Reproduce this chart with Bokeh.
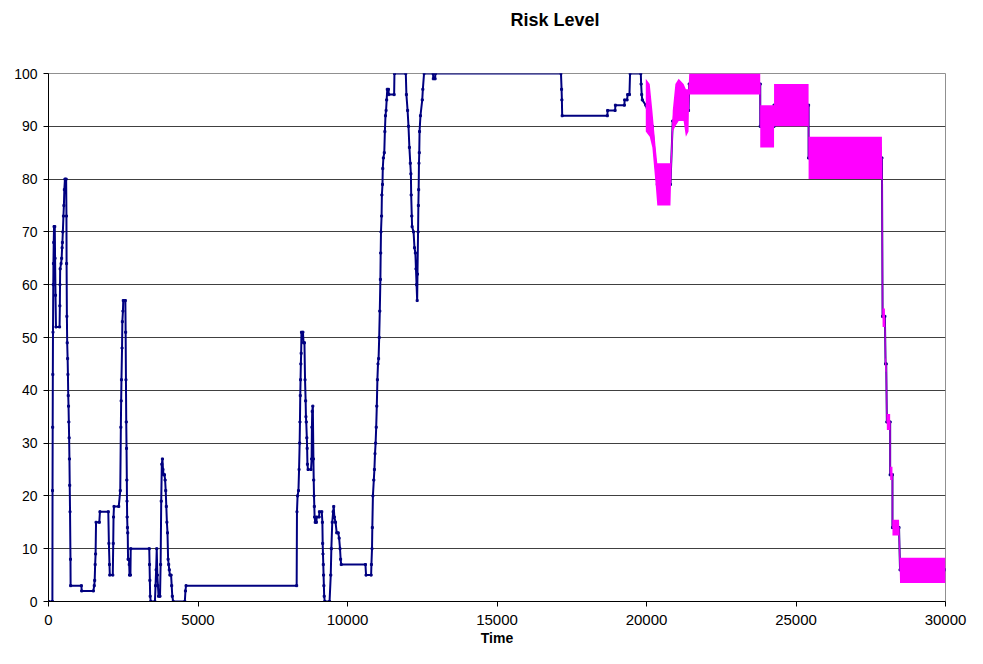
from bokeh.plotting import figure
from bokeh.models import Range1d, FixedTicker, Title
from bokeh.embed import file_html
from bokeh.resources import INLINE

# ---- data ----
blue_time = [0, 130, 135, 140, 145, 150, 160, 165, 175, 185, 210, 220, 235, 250, 370, 380, 385, 390, 420, 440,
             455, 465, 480, 500, 515, 530, 550, 590, 600, 605, 615, 625, 640, 650, 660, 670, 680, 690, 700, 710,
             720, 735, 740, 1100, 1110, 1500, 1530, 1545, 1560, 1575, 1590, 1700, 1720, 2000, 2020, 2040, 2050,
             2150, 2165, 2175, 2190, 2350, 2400, 2420, 2430, 2440, 2460, 2470, 2490, 2500, 2570, 2580, 2590,
             2600, 2610, 2620, 2625, 2630, 2640, 2650, 2660, 2690, 2700, 2710, 2740, 2750, 3370, 3380, 3390,
             3400, 3420, 3560, 3580, 3600, 3620, 3640, 3660, 3680, 3730, 3750, 3770, 3790, 3810, 3830, 3850,
             3880, 3900, 3920, 3940, 3960, 3980, 4000, 4020, 4040, 4060, 4100, 4120, 4140, 4170, 4560, 4580,
             4600, 8300, 8310, 8330, 8360, 8380, 8400, 8410, 8420, 8430, 8440, 8450, 8460, 8510, 8530, 8560,
             8580, 8600, 8610, 8620, 8640, 8650, 8660, 8680, 8780, 8800, 8810, 8820, 8840, 8860, 8870, 8880,
             8890, 8900, 8920, 8960, 8970, 9050, 9060, 9140, 9160, 9170, 9180, 9190, 9200, 9210, 9220, 9240,
             9400, 9440, 9460, 9490, 9520, 9540, 9560, 9600, 9640, 9690, 9720, 9750, 9770, 9790, 10600, 10620,
             10790, 10800, 10820, 10830, 10850, 10880, 10900, 10920, 10940, 10960, 10980, 11000, 11020, 11040,
             11060, 11080, 11100, 11110, 11120, 11140, 11150, 11170, 11180, 11200, 11230, 11250, 11270, 11290,
             11310, 11330, 11370, 11380, 11560, 11570, 11950, 11970, 12010, 12040, 12070, 12100, 12120, 12130,
             12150, 12160, 12210, 12240, 12270, 12290, 12310, 12330, 12340, 12360, 12370, 12380, 12390, 12400,
             12410, 12440, 12500, 12520, 12560, 12860, 12870, 12930, 12940, 17140, 17160, 17170, 17180, 18690,
             18700, 18950, 18960, 19260, 19270, 19350, 19370, 19430, 19450, 19810, 19820, 19840, 19860,
             19976, 20196, 20361, 20801, 20878, 21406, 21428, 23804, 23804, 24266, 24266, 25421, 25421, 27874,
             27896, 27973, 27995, 28017, 28039, 28149, 28149, 28226, 28226, 28446, 28479, 30000]
blue_risk = [0, 0, 21, 33, 43, 51, 60, 64, 68, 71, 71, 65, 58, 52, 52, 56, 60, 63, 64, 65,
             67, 68, 70, 73, 75, 78, 80, 80, 73, 64, 54, 49, 46, 43, 39, 37, 34, 31, 27, 22,
             17, 8, 3, 3, 2, 2, 3, 4, 7, 9, 15, 15, 17, 17, 11, 7, 5,
             5, 11, 16, 18, 18, 21, 33, 38, 42, 48, 53, 55, 57, 57, 51, 42,
             34, 29, 23, 19, 16, 14, 13, 8, 8, 7, 5, 5, 10, 10, 7, 4,
             1, 0, 0, 3, 6, 10, 5, 3, 1, 1, 7, 19, 26, 27, 25, 24,
             24, 23, 21, 18, 15, 13, 8, 7, 6, 5, 5, 3, 1, 0, 0, 2,
             3, 3, 17, 20, 21, 25, 30, 34, 39, 42, 45, 47, 51, 51, 49, 49,
             42, 38, 35, 34, 31, 29, 26, 25, 25, 27, 33, 36, 37, 27, 23, 20,
             18, 16, 15, 15, 16, 16, 17, 17, 15, 11, 9, 7, 5, 3, 1, 0,
             0, 5, 10, 15, 17, 18, 16, 15, 13, 13, 12, 10, 8, 7, 7, 5,
             5, 7, 10, 14, 20, 23, 25, 28, 30, 33, 37, 42, 45, 46,
             50, 55, 61, 66, 70, 73, 77, 79, 82, 84, 85, 89, 92, 93,
             95, 97, 97, 96, 96, 100, 100, 96, 93, 90, 86, 83, 81, 77,
             73, 71, 70, 67, 66, 63, 60, 57, 62, 70, 75, 78, 83, 85,
             89, 92, 95, 97, 100, 100, 99, 99, 100, 100, 97, 95, 92, 92,
             93, 93, 94, 94, 95, 95, 96, 96, 100, 100, 98, 96, 95,
             94, 90, 79, 79, 91, 93, 98, 98, 90, 90, 94, 94, 84, 84,
             54, 54, 45, 45, 34, 34, 24, 24, 14, 14, 6, 6]

# magenta (noisy) series, read as its lower / upper envelope
band_time = [19976, 20108, 20196, 20306, 20361, 20801, 20834, 20878, 20966, 21076, 21241, 21318, 21406,
             21428, 23804, 23804, 24266, 24266, 25421, 25421, 27874, 27896, 27973, 27995, 28017, 28039,
             28149, 28149, 28226, 28226, 28446, 28479, 30000]
band_low = [89, 88, 86, 79, 75, 75, 82, 89, 90, 91, 91, 88, 89,
            96, 96, 86, 86, 90, 90, 80, 80, 52, 52, 43.5, 43.5, 32.5,
            32.5, 23, 23, 12.5, 12.5, 3.5, 3.5]
band_high = [99, 98, 93, 86, 83, 83, 86, 93, 98, 99, 98, 97, 97,
             100, 100, 94, 94, 98, 98, 88, 88, 55.5, 55.5, 46, 46, 35.5,
             35.5, 25.5, 25.5, 15.5, 15.5, 8.3, 8.3]

x_ticks = [0, 5000, 10000, 15000, 20000, 25000, 30000]
y_ticks = [0, 10, 20, 30, 40, 50, 60, 70, 80, 90, 100]

FONT = "Liberation Sans"
W, H = 967, 648
LEFT, TOP, RIGHT, BOTTOM = 48, 73, 22, 46

p = figure(width=W, height=H, output_backend="svg", toolbar_location=None,
           x_range=Range1d(0, 30000), y_range=Range1d(0, 100),
           min_border_left=LEFT, min_border_right=RIGHT, min_border_top=TOP, min_border_bottom=BOTTOM)
p.background_fill_color = "white"
p.border_fill_color = "white"
p.outline_line_color = "#909090"

# real title, with a blank spacer title between it and the frame
p.title.text = "Risk Level"
p.title.text_font = FONT
p.title.text_font_size = "18px"
p.title.text_font_style = "bold"
p.title.text_color = "black"
p.title.align = "left"
p.title.offset = 462
p.add_layout(Title(text=" ", text_font=FONT, text_font_size="24px"), "above")

# grid
p.xgrid.grid_line_color = None
p.ygrid.ticker = FixedTicker(ticks=y_ticks)
p.ygrid.grid_line_color = "#404040"
p.ygrid.grid_line_width = 1

# axes
for ax in (p.xaxis[0], p.yaxis[0]):
    ax.axis_line_color = "black"
    ax.major_tick_line_color = "black"
    ax.major_tick_in = 0
    ax.major_tick_out = 5
    ax.minor_tick_line_color = None
    ax.major_label_text_font = FONT
    ax.major_label_text_color = "black"
p.xaxis.ticker = FixedTicker(ticks=x_ticks)
p.yaxis.ticker = FixedTicker(ticks=y_ticks)
p.xaxis.major_label_text_font_size = "15px"
p.yaxis.major_label_text_font_size = "14px"
p.xaxis.major_label_standoff = 8
p.yaxis.major_label_standoff = 6
p.xaxis.axis_label = "Time"
p.xaxis.axis_label_text_font = FONT
p.xaxis.axis_label_text_font_size = "14px"
p.xaxis.axis_label_text_font_style = "bold"
p.xaxis.axis_label_text_color = "black"
p.xaxis.axis_label_standoff = 2

# blue series
p.line(blue_time, blue_risk, line_color="#000080", line_width=2)
p.scatter(blue_time, blue_risk, marker="square", size=2, fill_color="#000080", line_color="#000080")

# magenta series
p.varea(x=band_time, y1=band_low, y2=band_high, fill_color="#FF00FF")
band_mid = [(a + b) / 2 for a, b in zip(band_low, band_high)]
p.line(band_time, band_mid, line_color="#FF00FF", line_width=1.5, line_alpha=0.6)

open("out.html", "w").write(file_html(p, INLINE))
